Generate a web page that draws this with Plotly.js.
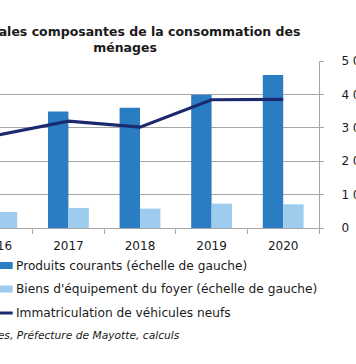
<!DOCTYPE html>
<html>
<head>
<meta charset="utf-8">
<script src="https://cdn.plot.ly/plotly-3.0.1.min.js"></script>
<style>
  html, body { margin: 0; padding: 0; width: 356px; height: 364px; overflow: hidden; background: #fff; }
  #chart { position: absolute; left: -80px; top: 0; width: 460px; height: 364px; }
</style>
</head>
<body>
<div id="chart"></div>
<script>
// ---- data ----
const years = ['2016', '2017', '2018', '2019', '2020'];
const produitsCourants = [330, 349, 360, 399, 458];      // left scale
const biensEquipement = [48, 60, 58, 73, 71];             // left scale
const immatriculations = [2780, 3200, 3020, 3840, 3850];  // right scale
const seriesNames = [
  'Produits courants (échelle de gauche)',
  "Biens d'équipement du foyer (échelle de gauche)",
  'Immatriculation de véhicules neufs'
];
const titleText = 'Principales composantes de la consommation des<br>ménages';
const sourceText = 'Sources : Douanes, Préfecture de Mayotte, calculs';

const colDark = '#2a7dc2';
const colLight = '#9dccef';
const colLine = '#1b2a6e';
const gridCol = '#a6a6a6';
const font = 'DejaVu Sans, Verdana, sans-serif';

const traces = [
  { type: 'bar', x: years, y: produitsCourants, name: seriesNames[0],
    marker: { color: colDark }, yaxis: 'y', showlegend: false, hoverinfo: 'skip' },
  { type: 'bar', x: years, y: biensEquipement, name: seriesNames[1],
    marker: { color: colLight }, yaxis: 'y', showlegend: false, hoverinfo: 'skip' },
  { type: 'scatter', mode: 'lines', x: years, y: immatriculations, name: seriesNames[2],
    line: { color: colLine, width: 3.2 }, yaxis: 'y2', showlegend: false, hoverinfo: 'skip' }
];

// manual legend (swatch + label) in container pixel positions
const W = 460, H = 364;
const legendRows = [265.5, 289, 313];
const shapes = [];
const annotations = [];
function px2x(px) { return (px - 41) / 358; }
function py2y(py) { return (364 - 136 - py) / 167; }
[colDark, colLight].forEach((c, i) => {
  shapes.push({ type: 'rect', xref: 'paper', yref: 'paper',
    x0: px2x(74), x1: px2x(92.7), y0: py2y(legendRows[i] + 3.5), y1: py2y(legendRows[i] - 3.5),
    fillcolor: c, line: { width: 0 } });
});
shapes.push({ type: 'line', xref: 'paper', yref: 'paper',
  x0: px2x(74), x1: px2x(92.7), y0: py2y(legendRows[2]), y1: py2y(legendRows[2]),
  line: { color: colLine, width: 3 } });
seriesNames.forEach((n, i) => {
  annotations.push({ xref: 'paper', yref: 'paper', x: px2x(94), y: py2y(legendRows[i]),
    xanchor: 'left', yanchor: 'middle', text: n, showarrow: false,
    font: { family: font, size: 12.2, color: '#1a1a1a' } });
});
annotations.push({ xref: 'paper', yref: 'paper', x: px2x(262), y: py2y(335),
  xanchor: 'right', yanchor: 'middle', text: '<i>' + sourceText + '</i>', showarrow: false,
  font: { family: font, size: 10.7, color: '#1a1a1a' } });

const layout = {
  width: W, height: H,
  margin: { l: 41, r: 61, t: 61, b: 136, autoexpand: false },
  paper_bgcolor: '#fff', plot_bgcolor: '#fff',
  separators: ', ',
  font: { family: font, size: 12, color: '#1a1a1a' },
  title: { text: '<b>' + titleText + '</b>', xref: 'container', x: 205 / W, xanchor: 'center',
    yref: 'container', y: 1 - 36 / H, yanchor: 'top',
    font: { family: font, size: 12.5, color: '#1a1a1a' } },
  barmode: 'group', bargap: 0.43, bargroupgap: 0,
  xaxis: { type: 'category', range: [-0.5, 4.5], showgrid: false, showline: true,
    linecolor: gridCol, linewidth: 1, ticks: 'outside', tickson: 'boundaries',
    ticklen: 5, tickcolor: gridCol, ticklabelstandoff: 7,
    tickfont: { family: font, size: 12, color: '#1a1a1a' },
    automargin: false, fixedrange: true },
  yaxis: { range: [0, 500], dtick: 100, showgrid: true, gridcolor: gridCol, gridwidth: 1,
    showline: true, linecolor: gridCol, ticks: 'outside', ticklen: 4, tickcolor: gridCol,
    zeroline: false, automargin: false, tickfont: { family: font, size: 12 } },
  yaxis2: { overlaying: 'y', side: 'right', range: [0, 5000], dtick: 1000, tickformat: ',d',
    showgrid: false, showline: true, linecolor: gridCol, ticks: 'outside', ticklen: 4,
    tickcolor: gridCol, zeroline: false, automargin: false, ticklabelstandoff: 15,
    tickfont: { family: font, size: 12, color: '#1a1a1a' } },
  shapes: shapes,
  annotations: annotations,
  showlegend: false
};

Plotly.newPlot('chart', traces, layout, { displayModeBar: false, staticPlot: true });
</script>
</body>
</html>
